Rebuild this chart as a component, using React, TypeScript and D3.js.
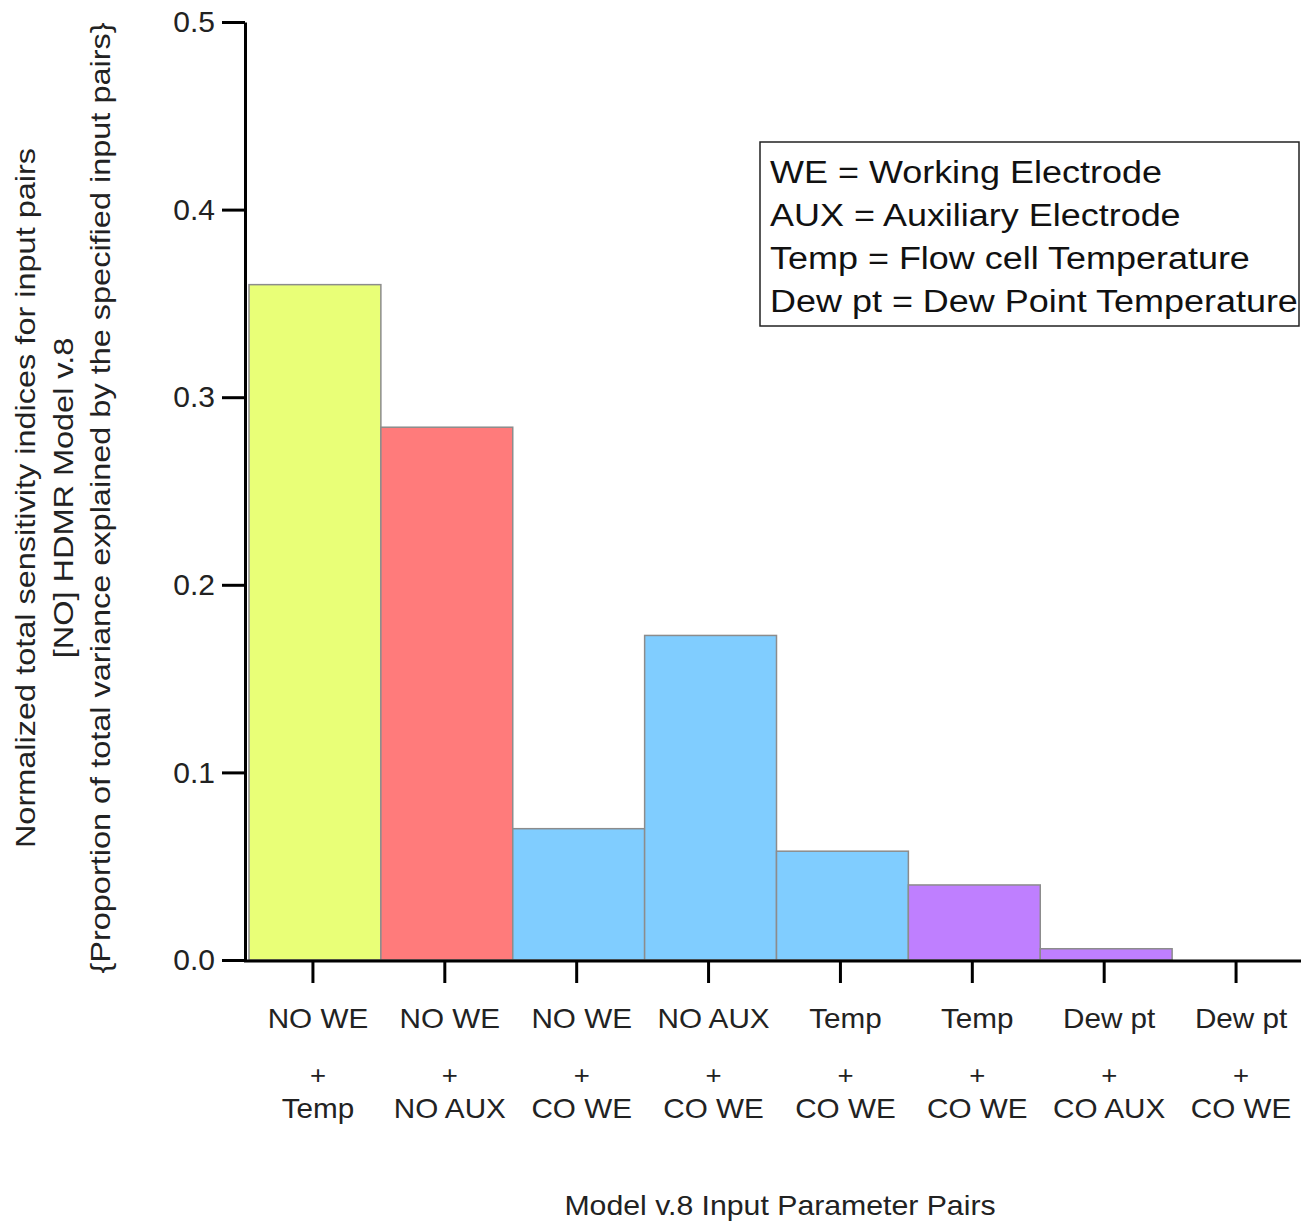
import * as d3 from "d3";
import React, { useRef, useEffect } from "react";

const width = 1301;
const height = 1224;

const pairTop = ["NO WE", "NO WE", "NO WE", "NO AUX", "Temp", "Temp", "Dew pt", "Dew pt"];
const pairBottom = ["Temp", "NO AUX", "CO WE", "CO WE", "CO WE", "CO WE", "CO AUX", "CO WE"];
const indices = [0.36, 0.284, 0.07, 0.173, 0.058, 0.04, 0.006, 0];
const barColors = ["#e9ff77", "#ff7b7b", "#80cdff", "#80cdff", "#80cdff", "#bf7fff", "#bf7fff", "#bf7fff"];
const yTicks = [0, 0.1, 0.2, 0.3, 0.4, 0.5];
const legendLines = [
  "WE = Working Electrode",
  "AUX = Auxiliary Electrode",
  "Temp = Flow cell Temperature",
  "Dew pt = Dew Point Temperature",
];
const yTitle = [
  "Normalized total sensitivity indices for input pairs",
  "[NO] HDMR Model v.8",
  "{Proportion of total variance explained by the specified input pairs}",
];
const xTitle = "Model v.8 Input Parameter Pairs";

const font = "'Liberation Sans', Arial, sans-serif";

const App = () => {
  const ref = useRef<SVGSVGElement>(null);

  useEffect(() => {
    const svg = d3.select(ref.current);
    svg.selectAll("*").remove();

    const xScale = d3
      .scaleBand<number>()
      .domain(d3.range(indices.length))
      .range([249, 1304])
      .padding(0);
    const yScale = d3.scaleLinear().domain([0, 0.5]).range([960, 22]);

    // bars
    svg
      .append("g")
      .selectAll("rect")
      .data(indices)
      .join("rect")
      .attr("x", (_, i) => xScale(i)!)
      .attr("y", (d) => yScale(d))
      .attr("width", xScale.bandwidth())
      .attr("height", (d) => yScale(0) - yScale(d))
      .attr("fill", (_, i) => barColors[i])
      .attr("stroke", (d) => (d > 0 ? "#8c8c8c" : "none"))
      .attr("stroke-width", 1.5);

    // y-axis
    const yAxis = svg
      .append("g")
      .attr("transform", "translate(245,0)")
      .call(
        d3
          .axisLeft(yScale)
          .tickValues(yTicks)
          .tickFormat(d3.format(".1f"))
          .tickSize(23)
          .tickSizeOuter(0)
          .tickPadding(7)
      );
    yAxis.select(".domain").attr("stroke", "#000").attr("stroke-width", 3);
    yAxis.selectAll(".tick line").attr("stroke", "#000").attr("stroke-width", 3);
    yAxis
      .selectAll(".tick text")
      .attr("font-family", font)
      .attr("font-size", 30)
      .attr("fill", "#222");

    // x-axis
    const xAxis = svg.append("g").attr("transform", "translate(0,961)");
    xAxis
      .append("line")
      .attr("x1", 244)
      .attr("x2", 1301)
      .attr("stroke", "#000")
      .attr("stroke-width", 3);
    const ticks = xAxis
      .selectAll("g.tick")
      .data(indices)
      .join("g")
      .attr("class", "tick")
      .attr("transform", (_, i) => `translate(${xScale(i)! + xScale.bandwidth() / 2 - 2},0)`);
    ticks.append("line").attr("y2", 22).attr("stroke", "#000").attr("stroke-width", 3);
    const label = (sel, y, size, text) =>
      sel
        .append("text")
        .attr("transform", `translate(5,${y}) scale(1.06,1)`)
        .attr("text-anchor", "middle")
        .attr("font-family", font)
        .attr("font-size", size)
        .attr("fill", "#222")
        .text(text);
    label(ticks, 67, 28, (_, i) => pairTop[i]);
    label(ticks, 123, 26, "+");
    label(ticks, 157, 28, (_, i) => pairBottom[i]);

    // axis titles
    svg
      .append("text")
      .attr("transform", "translate(780,1215) scale(1.08,1)")
      .attr("text-anchor", "middle")
      .attr("font-family", font)
      .attr("font-size", 28)
      .attr("fill", "#222")
      .text(xTitle);

    svg
      .append("g")
      .selectAll("text")
      .data(yTitle)
      .join("text")
      .attr("transform", (_, i) => `translate(${35 + i * 37.5},498) rotate(-90) scale(1.16,1)`)
      .attr("text-anchor", "middle")
      .attr("font-family", font)
      .attr("font-size", 28)
      .attr("fill", "#222")
      .text((d) => d);

    // legend box
    const legend = svg.append("g").attr("transform", "translate(760,142)");
    legend
      .append("rect")
      .attr("width", 539)
      .attr("height", 184)
      .attr("fill", "#fff")
      .attr("stroke", "#222")
      .attr("stroke-width", 1.5);
    legend
      .selectAll("text")
      .data(legendLines)
      .join("text")
      .attr("transform", (_, i) => `translate(10,${41 + i * 43}) scale(1.16,1)`)
      .attr("font-family", font)
      .attr("font-size", 31)
      .attr("fill", "#111")
      .text((d) => d);
  }, []);

  return (
    <svg
      ref={ref}
      width={width}
      height={height}
      style={{ position: "absolute", left: 0, top: 0, background: "#fff" }}
    />
  );
};

export default App;
